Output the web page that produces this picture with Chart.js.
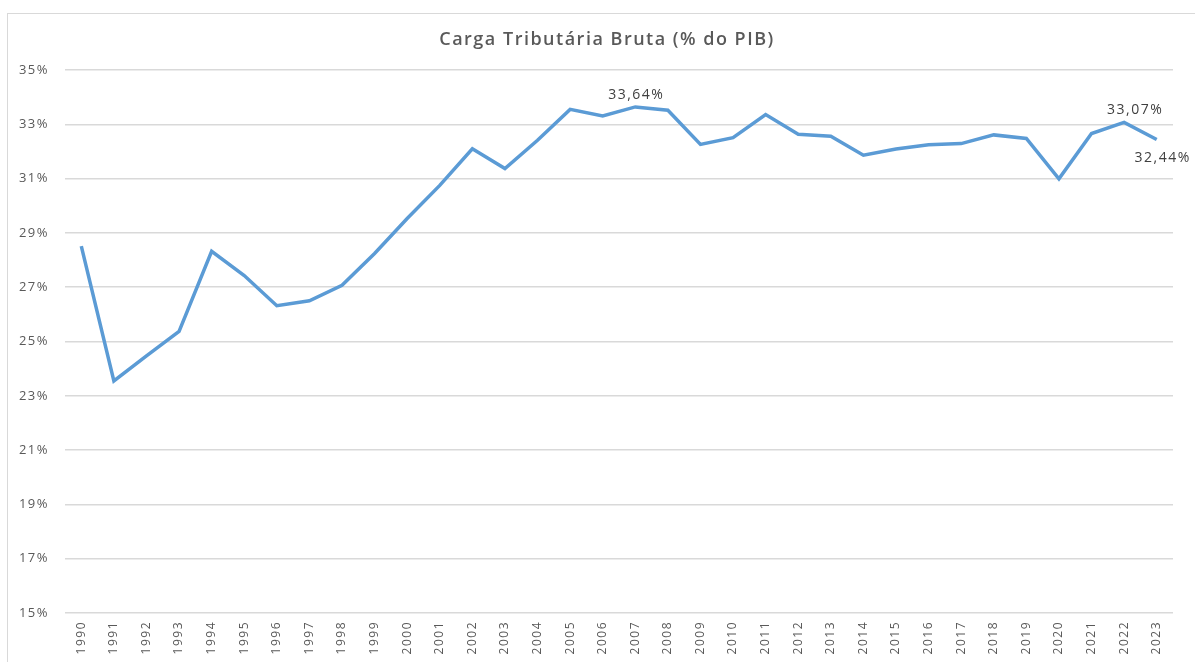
<!DOCTYPE html>
<html lang="pt">
<head>
    <meta charset="UTF-8">
    <title>Carga Tributária Bruta</title>
    <style>
        html, body { margin: 0; padding: 0; background: #fff; overflow: hidden; }
        .frame { position: absolute; left: 7px; top: 13px; width: 1200px; height: 700px; border: 1px solid #d9d9d9; }
        .wrap { position: absolute; left: 0; top: 0; width: 1195px; height: 662px; }
    </style>
</head>
<body>
    <div class="frame"></div>
    <div class="wrap">
        <canvas id="myChart" width="1195" height="662"></canvas>
    </div>

    <script src="https://cdn.jsdelivr.net/npm/chart.js@4/dist/chart.umd.min.js"></script>
    <script>
        var titleText = 'Carga Tributária Bruta (% do PIB)';

        var years = ['1990', '1991', '1992', '1993', '1994', '1995', '1996', '1997', '1998', '1999',
                     '2000', '2001', '2002', '2003', '2004', '2005', '2006', '2007', '2008', '2009',
                     '2010', '2011', '2012', '2013', '2014', '2015', '2016', '2017', '2018', '2019',
                     '2020', '2021', '2022', '2023'];

        // % do PIB
        var carga = [28.51, 23.55, 24.47, 25.37, 28.32, 27.43, 26.32, 26.50, 27.07, 28.24,
                     29.53, 30.75, 32.10, 31.37, 32.41, 33.55, 33.31, 33.64, 33.52, 32.26,
                     32.51, 33.36, 32.63, 32.56, 31.86, 32.09, 32.25, 32.29, 32.61, 32.48,
                     30.99, 32.66, 33.07, 32.44];

        var yTicks = [15, 17, 19, 21, 23, 25, 27, 29, 31, 33, 35];

        // which points get a value label, and where
        var labelIdx = [17, 32, 33];
        var labelPos = ['above', 'above', 'below'];
        var labelDx = [1, 11, 6];

        var grey = '#595959';
        var fontFam = "'Open Sans', 'Liberation Sans', sans-serif";

        function fmt(v) {
            return v.toFixed(2).replace('.', ',') + '%';
        }

        // the original text is drawn a bit wider, so space the letters out
        var spacing = {
            id: 'spacing',
            beforeLayout: function(chart) { chart.ctx.letterSpacing = '1.5px'; },
            beforeDraw: function(chart) { chart.ctx.letterSpacing = '1.5px'; }
        };

        // title sits a little right of the canvas centre in the original
        var titleBox = {
            id: 'titleBox',
            afterDraw: function(chart) {
                var ctx = chart.ctx;
                ctx.save();
                ctx.letterSpacing = '1.5px';
                ctx.font = '600 18px ' + fontFam;
                ctx.fillStyle = grey;
                ctx.textAlign = 'center';
                ctx.textBaseline = 'middle';
                ctx.fillText(titleText, 607, 40);
                ctx.restore();
            }
        };

        var pointLabels = {
            id: 'pointLabels',
            afterDatasetsDraw: function(chart) {
                var ctx = chart.ctx;
                var meta = chart.getDatasetMeta(0);
                ctx.save();
                ctx.letterSpacing = '1.5px';
                ctx.font = '14px ' + fontFam;
                ctx.fillStyle = '#404040';
                ctx.textAlign = 'center';
                labelIdx.forEach(function(i, k) {
                    var pt = meta.data[i];
                    if (labelPos[k] === 'above') {
                        ctx.textBaseline = 'bottom';
                        ctx.fillText(fmt(carga[i]), pt.x + labelDx[k], pt.y - 5);
                    } else {
                        ctx.textBaseline = 'top';
                        ctx.fillText(fmt(carga[i]), pt.x + labelDx[k], pt.y + 12);
                    }
                });
                ctx.restore();
            }
        };

        var ctx = document.getElementById('myChart').getContext('2d');
        var myChart = new Chart(ctx, {
            type: 'line',
            data: {
                labels: years,
                datasets: [{
                    label: 'Carga Tributária Bruta',
                    data: carga,
                    borderColor: '#5b9bd5',
                    borderWidth: 3.5,
                    pointRadius: 0,
                    tension: 0,
                    fill: false
                }]
            },
            options: {
                responsive: false,
                animation: false,
                layout: {
                    padding: { left: 0, right: 22, top: 70, bottom: 0 }
                },
                plugins: {
                    legend: { display: false },
                    tooltip: { enabled: false },
                    title: { display: false }
                },
                scales: {
                    x: {
                        offset: true,
                        grid: { display: false, drawTicks: false },
                        border: { display: false },
                        ticks: {
                            color: grey,
                            font: { family: fontFam, size: 12 },
                            minRotation: 90,
                            maxRotation: 90,
                            autoSkip: false,
                            padding: 8
                        },
                        afterFit: function(scale) { scale.height = 49; }
                    },
                    y: {
                        min: 15,
                        max: 35,
                        afterBuildTicks: function(scale) {
                            scale.ticks = yTicks.map(function(v) { return { value: v }; });
                        },
                        grid: { color: '#d9d9d9', lineWidth: 1.5, drawTicks: false },
                        border: { display: false },
                        ticks: {
                            color: grey,
                            font: { family: fontFam, size: 13 },
                            padding: 16,
                            callback: function(v) { return v + '%'; }
                        },
                        afterFit: function(scale) { scale.width = 65; }
                    }
                }
            },
            plugins: [spacing, titleBox, pointLabels]
        });
    </script>
</body>
</html>
